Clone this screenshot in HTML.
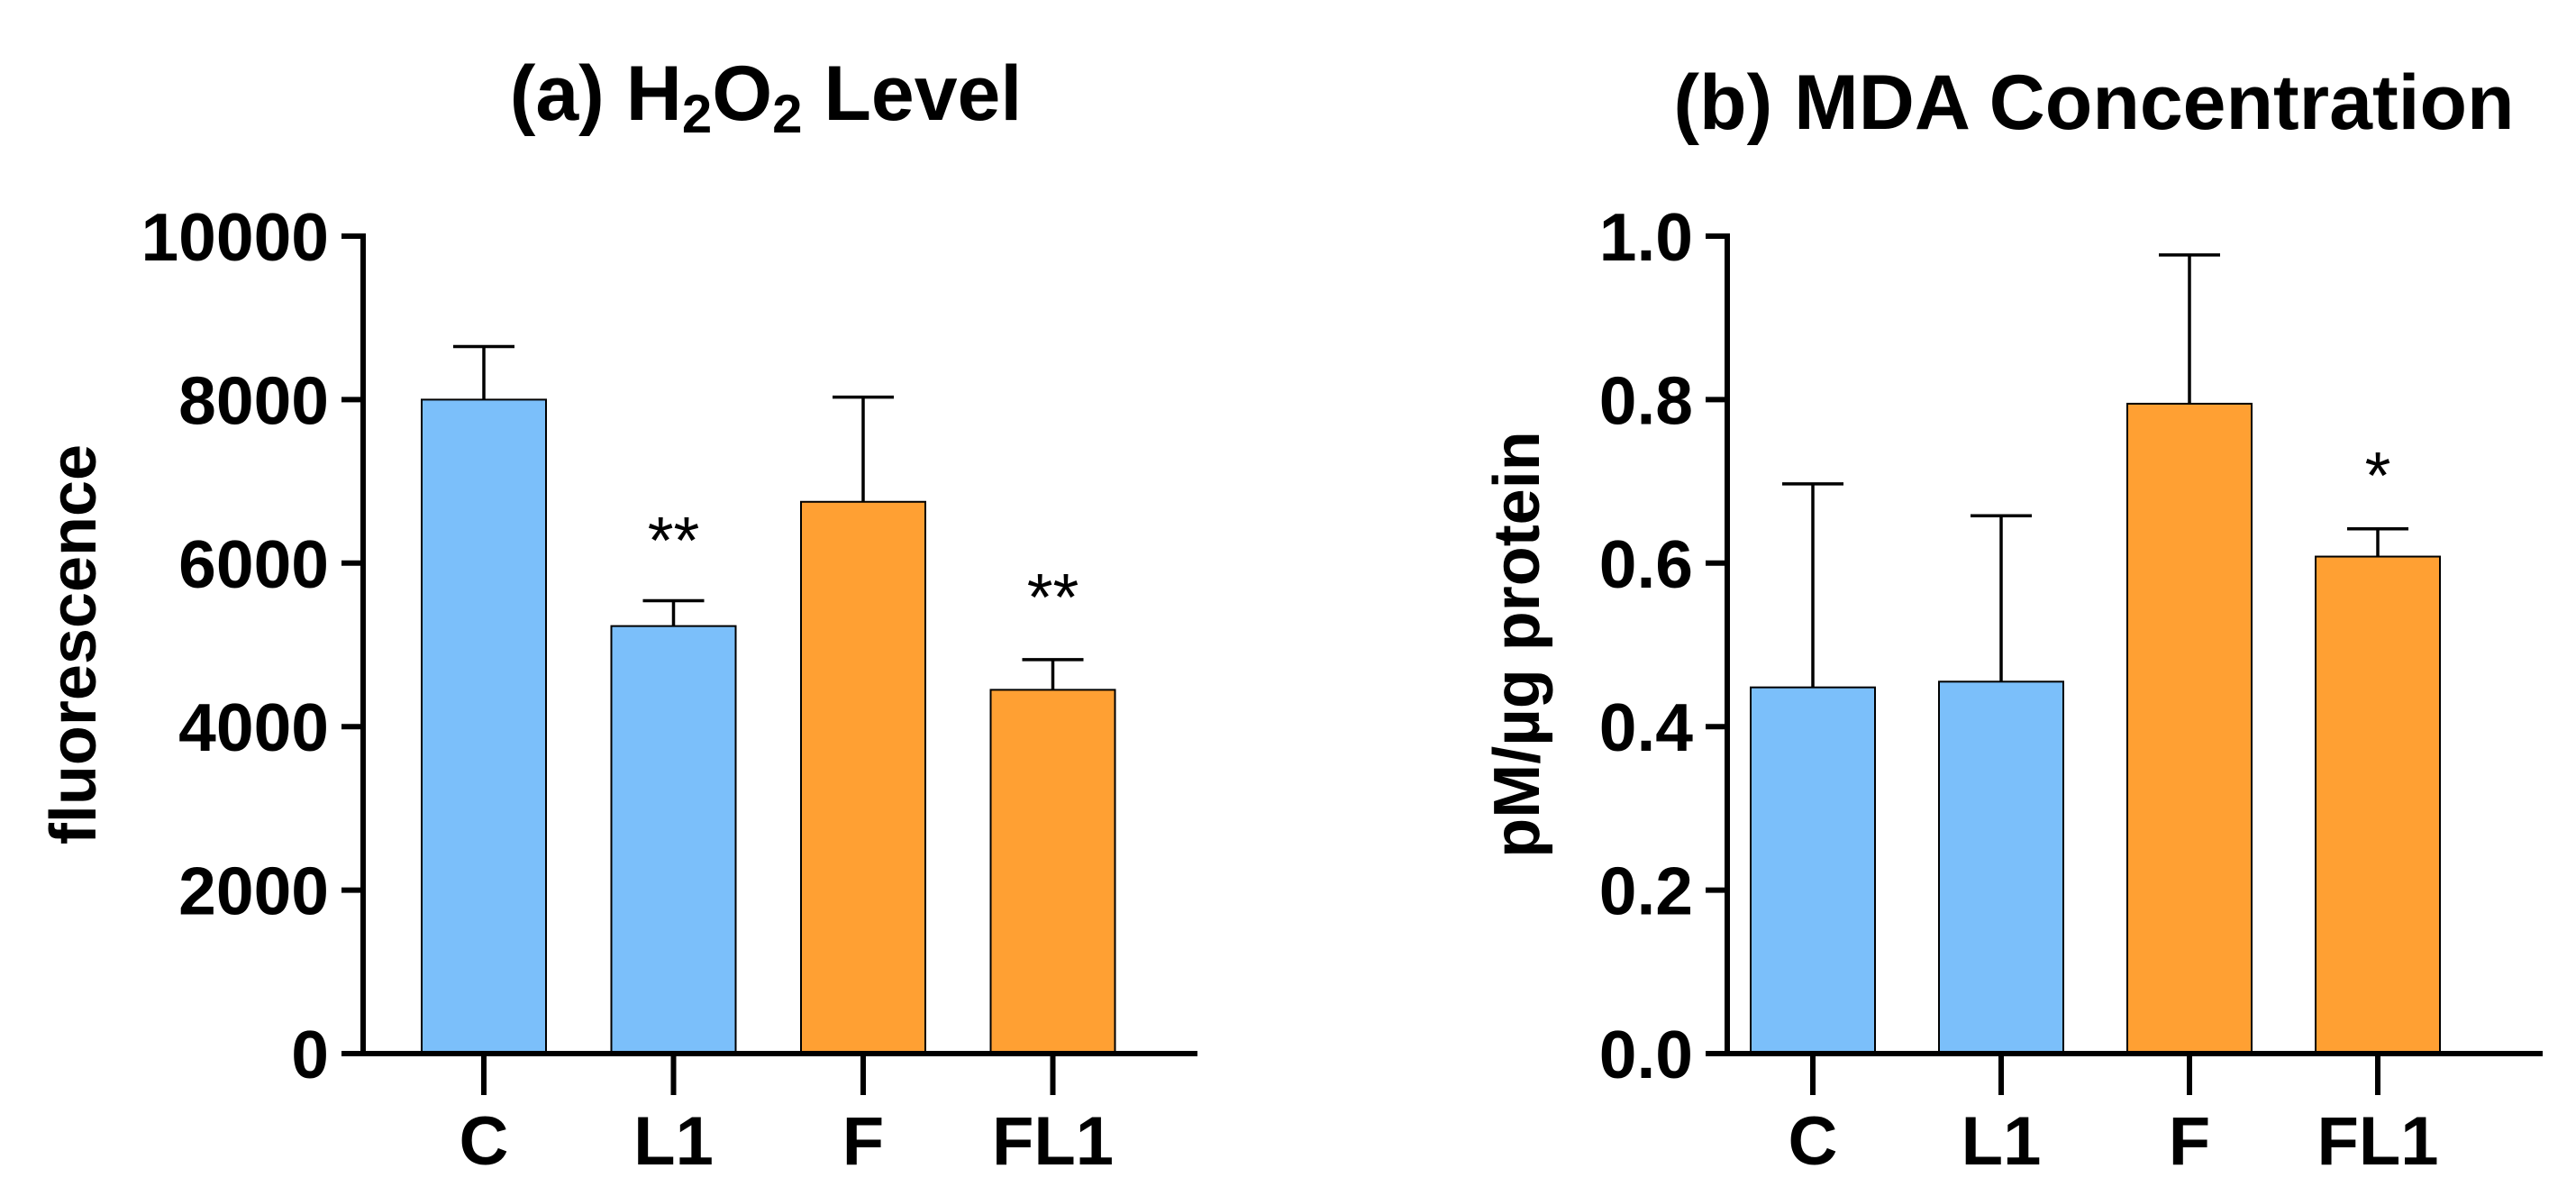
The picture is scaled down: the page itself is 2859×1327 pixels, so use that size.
<!DOCTYPE html>
<html><head><meta charset="utf-8"><style>
html,body{margin:0;padding:0;background:#fff;}
svg{display:block;font-family:"Liberation Sans",Arial,sans-serif;font-weight:bold;}
</style></head><body>
<svg id="fig" width="2859" height="1327" viewBox="0 0 2859 1327" xmlns="http://www.w3.org/2000/svg">
<g id="panelA"></g>
<g id="panelB"></g>
</svg>
<script>
const categories = ["C","L1","F","FL1"];
const h2o2Values = [8000, 5230, 6750, 4450];
const h2o2Errors = [650, 310, 1280, 370];
const h2o2Stars = ["", "**", "", "**"];
const h2o2Ticks = [0,2000,4000,6000,8000,10000];
const mdaValues = [0.448, 0.455, 0.795, 0.608];
const mdaErrors = [0.249, 0.203, 0.182, 0.034];
const mdaStars = ["", "", "", "*"];
const mdaTicks = [0,0.2,0.4,0.6,0.8,1.0];
const colors = ["#7bbffa","#7bbffa","#ffa033","#ffa033"];

const NS="http://www.w3.org/2000/svg";
function mk(parent, tag, attrs, text){
  const e=document.createElementNS(NS,tag);
  for(const k in attrs) e.setAttribute(k,attrs[k]);
  if(text!==undefined) e.textContent=text;
  parent.appendChild(e); return e;
}
function panel(g, cfg){
  const y0=1169, y1=262;
  const ys=v=>y0-(v-cfg.min)/(cfg.max-cfg.min)*(y0-y1);
  const xs=i=>cfg.x0+i*cfg.step;
  const bw=138;
  cfg.values.forEach((v,i)=>{
    const cx=xs(i), top=ys(v+cfg.errors[i]);
    const el=mk(g,'line',{x1:cx,x2:cx,y1:ys(v),y2:top,stroke:'#000','stroke-width':3.5});
    
    
    const cap=mk(g,'line',{x1:cx-34,x2:cx+34,y1:top,y2:top,stroke:'#000','stroke-width':3.5});
    
    
    const r=mk(g,'rect',{x:cx-bw/2,y:ys(v),width:bw,height:y0-ys(v),fill:colors[i],stroke:'#000','stroke-width':2});
    
    
    if(cfg.stars[i]){
      const s=mk(g,'text',{x:cx,y:cfg.starY[i],'text-anchor':'middle','font-size':74,'font-weight':'normal'},cfg.stars[i]);
      
      
    }
    const t=mk(g,'line',{x1:cx,x2:cx,y1:y0,y2:1215,stroke:'#000','stroke-width':6});
    
    
    const l=mk(g,'text',{x:cx,y:1292,'text-anchor':'middle','font-size':76},categories[i]);
    
    
  });
  cfg.ticks.forEach(tv=>{
    const y=ys(tv);
    const t=mk(g,'line',{x1:cfg.ax-24,x2:cfg.ax,y1:y,y2:y,stroke:'#000','stroke-width':6});
    
    
    const l=mk(g,'text',{x:cfg.ax-38,y:y+27,'text-anchor':'end','font-size':75},cfg.fmt(tv));
    
    
  });
  const ya=mk(g,'line',{x1:cfg.ax,x2:cfg.ax,y1:y1-3,y2:y0+3,stroke:'#000','stroke-width':6});
  
  
  const xa=mk(g,'line',{x1:cfg.ax-24,x2:cfg.axEnd,y1:y0,y2:y0,stroke:'#000','stroke-width':6});
  
  
  const yt=mk(g,'text',{x:0,y:0,'text-anchor':'middle','font-size':72,transform:`translate(${cfg.ytX},715) rotate(-90)`},cfg.ytitle);
  
  
}
panel(document.getElementById('panelA'),{min:0,max:10000,x0:537,step:210.5,ax:403,axEnd:1329,values:h2o2Values,errors:h2o2Errors,stars:h2o2Stars,starY:[0,625,0,688],ticks:h2o2Ticks,fmt:v=>String(v),ytitle:'fluorescence',ytX:106});
panel(document.getElementById('panelB'),{min:0,max:1,x0:2012,step:209,ax:1917,axEnd:2822,values:mdaValues,errors:mdaErrors,stars:mdaStars,starY:[0,0,0,553],ticks:mdaTicks,fmt:v=>v.toFixed(1),ytitle:'pM/µg protein',ytX:1708});

const ta=mk(document.getElementById('panelA'),'text',{x:850,y:133,'text-anchor':'middle','font-size':86});


ta.innerHTML='(a) H<tspan font-size="60" dy="14">2</tspan><tspan dy="-14">O</tspan><tspan font-size="60" dy="14">2</tspan><tspan dy="-14"> Level</tspan>';
const tb=mk(document.getElementById('panelB'),'text',{x:2324,y:143,'text-anchor':'middle','font-size':86},'(b) MDA Concentration');


</script>
</body></html>
